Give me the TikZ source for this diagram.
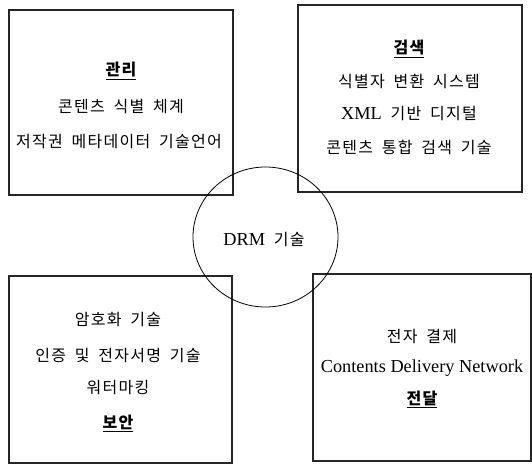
\documentclass[tikz,border=0pt]{standalone}
\usepackage{fontspec}
\setmainfont{Noto Sans CJK KR}[WordSpace=1.8,LetterSpace=8]
\newfontfamily\lat{Liberation Serif}
\newcommand\latin[1]{{\lat\fontsize{18.3}{20}\selectfont #1}}
\begin{document}
\begin{tikzpicture}[x=1pt,y=-1pt,
  boxstyle/.style={draw=black!85,line width=1.2pt},
  txt/.style={font=\fontsize{16}{19}\selectfont,inner sep=0pt,anchor=center},
  ttl/.style={font=\fontsize{16}{19}\selectfont\bfseries,inner sep=0pt,anchor=center}]
\useasboundingbox (0,0) rectangle (532,464);
% boxes
\draw[boxstyle] (9,10) rectangle (233,195) node[midway,draw=none] (b1) {};
\draw[boxstyle] (298,5) rectangle (522,192) node[midway,draw=none] (b2) {};
\draw[boxstyle] (9,276) rectangle (232,463) node[midway,draw=none] (b3) {};
\draw[boxstyle] (313,274) rectangle (531,461) node[midway,draw=none] (b4) {};
% circle
\draw[line width=0.8pt] (265.5,237) ellipse [x radius=72.5, y radius=70];
\node[txt] (c) at (264,240) {\latin{DRM} 기술};
% box 1
\node[ttl] (t1) at (121,71) {\underline{관리}};
\node[txt] (l11) at (121,107) {콘텐츠 식별 체계};
\node[txt] (l12) at (119,142) {저작권 메타데이터 기술언어};
% box 2
\node[ttl] (t2) at (409,49) {\underline{검색}};
\node[txt] (l21) at (409,81) {식별자 변환 시스템};
\node[txt] (l22) at (409,114) {\latin{XML} 기반 디지털};
\node[txt] (l23) at (409,147) {콘텐츠 통합 검색 기술};
% box 3
\node[txt] (l31) at (118,319) {암호화 기술};
\node[txt] (l32) at (118,356) {인증 및 전자서명 기술};
\node[txt] (l33) at (118,388) {워터마킹};
\node[ttl] (t3) at (118,423) {\underline{보안}};
% box 4
\node[txt] (l41) at (422,336) {전자 결제};
\node[txt] (l42) at (422,368) {\latin{Contents Delivery Network}};
\node[ttl] (t4) at (422,399) {\underline{전달}};
\end{tikzpicture}
\end{document}
